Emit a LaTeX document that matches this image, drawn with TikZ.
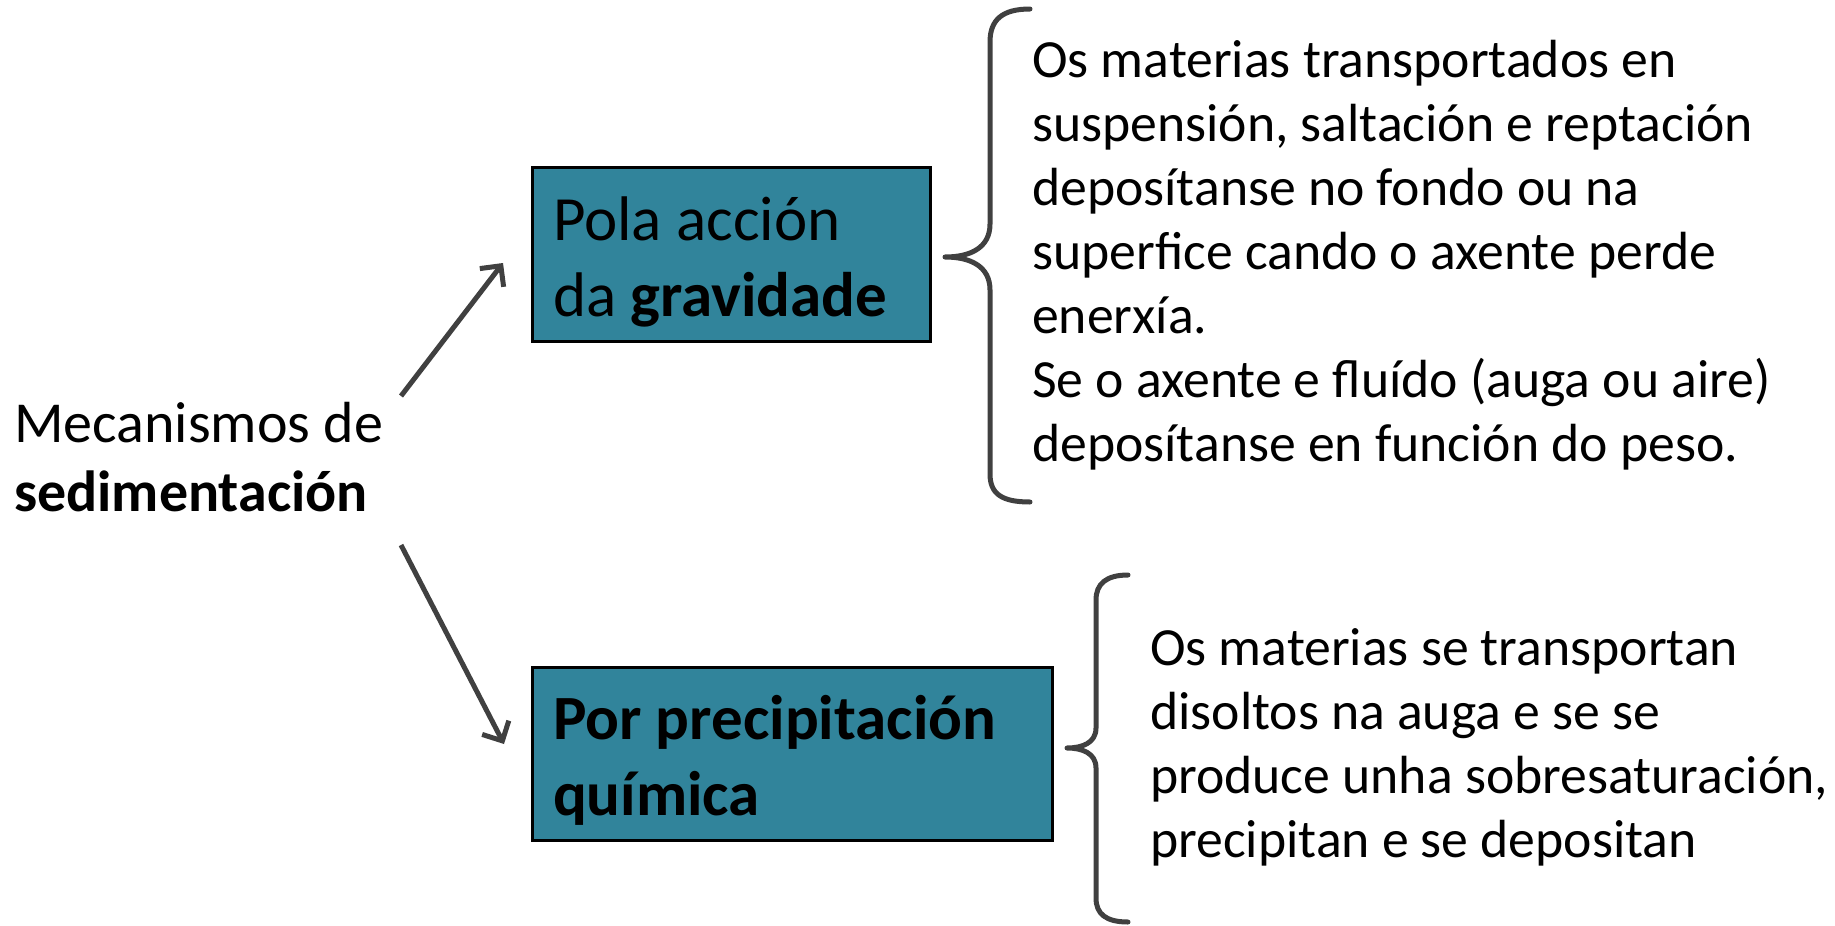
\documentclass[tikz,border=0pt]{standalone}
\usepackage{fontspec}
\setmainfont{Carlito}
\usetikzlibrary{arrows.meta}
\definecolor{boxfill}{HTML}{31849B}
\definecolor{linegray}{HTML}{404040}
\newcommand{\topstrut}{\rule{0pt}{68.5bp}}
\newcommand{\botstrut}{\rule[-20bp]{0pt}{0pt}}
\tikzset{
  mbox/.style={draw=black, line width=3bp, fill=boxfill, align=flush left, anchor=center,
    inner xsep=21bp, inner ysep=0bp, font=\fontsize{63bp}{76bp}\selectfont},
  desc/.style={align=left, anchor=base west, inner sep=0bp, font=\fontsize{53.7bp}{64bp}\selectfont},
  conn/.style={draw=linegray, line width=5bp, -{Straight Barb[length=15bp,width=30bp,line width=5bp]}},
  bracepath/.style={draw=linegray, line width=5bp, line cap=round, line join=round}
}
\begin{document}
\begin{tikzpicture}[x=1bp, y=-1bp]
\useasboundingbox (0,0) rectangle (1835,925);
% left label (anchor at the baseline of its last line)
\node[align=left, anchor=base west, inner sep=0bp, font=\fontsize{58bp}{69bp}\selectfont] (mech) at (14,511)
  {Mecanismos de\\\textbf{sedimentación}};
% boxes
\node[mbox, minimum width=398bp, minimum height=174bp, text width=356bp] (grav) at (731,254)
  {\topstrut Pola acción\\da \textbf{gravidade}\botstrut};
\node[mbox, minimum width=520bp, minimum height=173bp, text width=478bp] (prec) at (792,753.5)
  {\topstrut\textbf{Por precipitación}\\\textbf{química}\botstrut};
% connector end points
\coordinate (a1s) at (401,396);
\coordinate (a1e) at (503,263);
\coordinate (a2s) at (401,545);
\coordinate (a2e) at (504,744);
\draw[conn] (a1s) -- (a1e);
\draw[conn] (a2s) -- (a2e);
% braces
\draw[bracepath] (1030,9) .. controls (1002,9) and (990,20) .. (990,42) -- (990,224)
  .. controls (990,248) and (970,257) .. (945,257)
  .. controls (970,257) and (990,266) .. (990,290) -- (990,474)
  .. controls (990,494) and (1002,502) .. (1030,502);
\draw[bracepath] (1128,575) .. controls (1106,575) and (1096,584) .. (1096,600) -- (1096,728)
  .. controls (1096,743) and (1082,748) .. (1067,748)
  .. controls (1082,748) and (1096,753) .. (1096,768) -- (1096,898)
  .. controls (1096,914) and (1106,922) .. (1128,922);
% descriptions (anchor at the baseline of the last line)
\node[desc] (d1) at (1032,461)
  {Os materias transportados en\\suspensión, saltación e reptación\\deposítanse no fondo ou na\\superfice cando o axente perde\\enerxía.\\Se o axente e fluído (auga ou aire)\\deposítanse en función do peso.};
\node[desc] (d2) at (1150,857)
  {Os materias se transportan\\disoltos na auga e se se\\produce unha sobresaturación,\\precipitan e se depositan};
\end{tikzpicture}
\end{document}
